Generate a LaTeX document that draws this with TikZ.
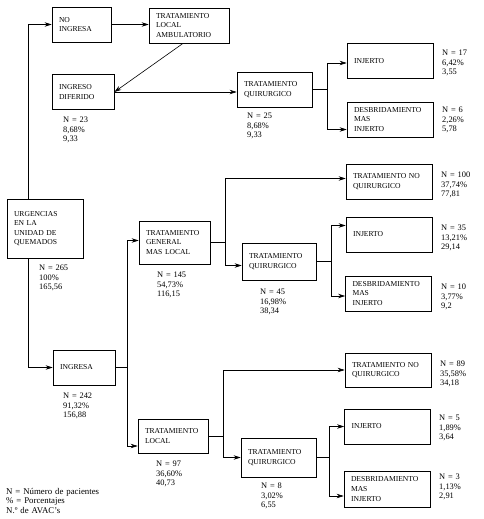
\documentclass[tikz,border=0pt]{standalone}
\usepackage{fontspec}
\setmainfont{Liberation Serif}
\usetikzlibrary{arrows.meta}
\begin{document}
\begin{tikzpicture}[x=1pt,y=-1pt,
  bx/.style={draw, line width=0.8pt, inner xsep=7pt, inner ysep=1pt, align=left, anchor=center, font=\fontsize{7.6}{9.6}\selectfont},
  st/.style={anchor=base west, inner sep=0pt, align=left, text width=50pt, font=\fontsize{8.4}{9.6}\selectfont},
  lg/.style={anchor=base west, inner sep=0pt, align=left, text width=120pt, font=\fontsize{8.8}{9.6}\selectfont},
  ln/.style={line width=0.6pt},
  arr/.style={ln, -{Stealth[length=7pt,width=4.5pt]}}]
\fill[white] (0,0) rectangle (484,519);
\useasboundingbox (0,0) rectangle (484,519);

% boxes
\node[bx, minimum width=59pt, minimum height=35pt, text width=45pt] (noing) at (81.5,24.5) {NO\\INGRESA};
\node[bx, minimum width=80pt, minimum height=35pt, text width=66pt] (tla) at (189,25.5) {TRATAMIENTO\\LOCAL\\AMBULATORIO};
\node[bx, minimum width=62pt, minimum height=35pt, text width=48pt] (idif) at (83,92) {INGRESO\\DIFERIDO};
\node[bx, minimum width=75pt, minimum height=35pt, text width=61pt] (tq1) at (274.5,89.5) {TRATAMIENTO\\QUIRURGICO};
\node[bx, minimum width=86pt, minimum height=35pt, text width=72pt] (inj1) at (390,61) {INJERTO};
\node[bx, minimum width=86pt, minimum height=35pt, text width=72pt] (des1) at (390,119.5) {DESBRIDAMIENTO\\MAS\\INJERTO};
\node[bx, minimum width=76pt, minimum height=59pt, text width=62pt] (urg) at (45,228.5) {URGENCIAS\\EN LA\\UNIDAD DE\\QUEMADOS};
\node[bx, minimum width=71pt, minimum height=43pt, text width=57pt] (tgml) at (174.5,242.5) {TRATAMIENTO\\GENERAL\\MAS LOCAL};
\node[bx, minimum width=86pt, minimum height=35pt, text width=72pt] (tnq1) at (389,181.5) {TRATAMIENTO NO\\QUIRURGICO};
\node[bx, minimum width=74pt, minimum height=37pt, text width=60pt] (tq2) at (279,261.5) {TRATAMIENTO\\QUIRURGICO};
\node[bx, minimum width=86pt, minimum height=35pt, text width=72pt] (inj2) at (389,234.5) {INJERTO};
\node[bx, minimum width=86pt, minimum height=35pt, text width=72pt] (des2) at (388.5,293.5) {DESBRIDAMIENTO\\MAS\\INJERTO};
\node[bx, minimum width=62pt, minimum height=35pt, text width=48pt] (ing) at (84,367.5) {INGRESA};
\node[bx, minimum width=70pt, minimum height=34pt, text width=56pt] (tl) at (173,436) {TRATAMIENTO\\LOCAL};
\node[bx, minimum width=86pt, minimum height=34pt, text width=72pt] (tnq2) at (388,370) {TRATAMIENTO NO\\QUIRURGICO};
\node[bx, minimum width=75pt, minimum height=39pt, text width=61pt] (tq3) at (278.5,457.5) {TRATAMIENTO\\QUIRURGICO};
\node[bx, minimum width=86pt, minimum height=35pt, text width=72pt] (inj3) at (387.5,426.5) {INJERTO};
\node[bx, minimum width=86pt, minimum height=36pt, text width=72pt] (des3) at (387,489) {DESBRIDAMIENTO\\MAS\\INJERTO};

% statistics
\node[st] (sidif) at (63,122.5) {N = 23\\8,68\%\\9,33};
\node[st] (stq1) at (247,118.5) {N = 25\\8,68\%\\9,33};
\node[st] (sinj1) at (442,55.5) {N = 17\\6,42\%\\3,55};
\node[st] (sdes1) at (442,112.5) {N = 6\\2,26\%\\5,78};
\node[st] (surg) at (39,270.5) {N = 265\\100\%\\165,56};
\node[st] (stgml) at (157,277.5) {N = 145\\54,73\%\\116,15};
\node[st] (stnq1) at (441,177.5) {N = 100\\37,74\%\\77,81};
\node[st] (sinj2) at (441,230.5) {N = 35\\13,21\%\\29,14};
\node[st] (sdes2) at (441,289.5) {N = 10\\3,77\%\\9,2};
\node[st] (stq2) at (260,294.5) {N = 45\\16,98\%\\38,34};
\node[st] (sing) at (63,398.5) {N = 242\\91,32\%\\156,88};
\node[st] (stl) at (156,466.5) {N = 97\\36,60\%\\40,73};
\node[st] (stnq2) at (440,366.5) {N = 89\\35,58\%\\34,18};
\node[st] (sinj3) at (439,420.5) {N = 5\\1,89\%\\3,64};
\node[st] (sdes3) at (439,479.5) {N = 3\\1,13\%\\2,91};
\node[st] (stq3) at (261,488.5) {N = 8\\3,02\%\\6,55};
\node[lg] (legend) at (6,494) {N = Número de pacientes\\\% = Porcentajes\\N.º de AVAC's};

% connectors
\draw[arr] ([xshift=22pt]urg.north west) |- (noing.west);
\draw[arr] ([xshift=22pt]urg.south west) |- (ing.west);
\draw[arr] (noing.east) -- (noing.east -| tla.west);
\draw[arr] ([xshift=-6pt]tla.south) -- (idif.east);
\draw[arr] (idif.east) -- (idif.east -| tq1.west);

\draw[ln] (tq1.east) -- ++(15,0) coordinate (f1);
\draw[arr] (f1) |- ([yshift=-2pt]inj1.west);
\draw[arr] (f1) |- ([yshift=-10pt]des1.west);

\draw[ln] (ing.east) -- ++(12,0) coordinate (f0);
\draw[arr] (f0) |- ([yshift=2pt]tgml.west);
\draw[arr] (f0) |- ([yshift=-10pt]tl.west);

\draw[ln] (tgml.east) -- ++(15,0) coordinate (f2);
\draw[arr] (f2) |- ([yshift=3pt]tnq1.west);
\draw[arr] (f2) |- ([yshift=-4pt]tq2.west);

\draw[ln] (tq2.east) -- ++(15,0) coordinate (f3);
\draw[arr] (f3) |- ([yshift=9pt]inj2.west);
\draw[arr] (f3) |- ([yshift=-2.5pt]des2.west);

\draw[ln] (tl.east) -- ++(15,0) coordinate (f4);
\draw[arr] (f4) |- (tnq2.west);
\draw[arr] (f4) |- (tq3.west);

\draw[ln] (tq3.east) -- ++(13,0) coordinate (f5);
\draw[arr] (f5) |- (inj3.west);
\draw[arr] (f5) |- ([yshift=-7pt]des3.west);
\end{tikzpicture}
\end{document}
